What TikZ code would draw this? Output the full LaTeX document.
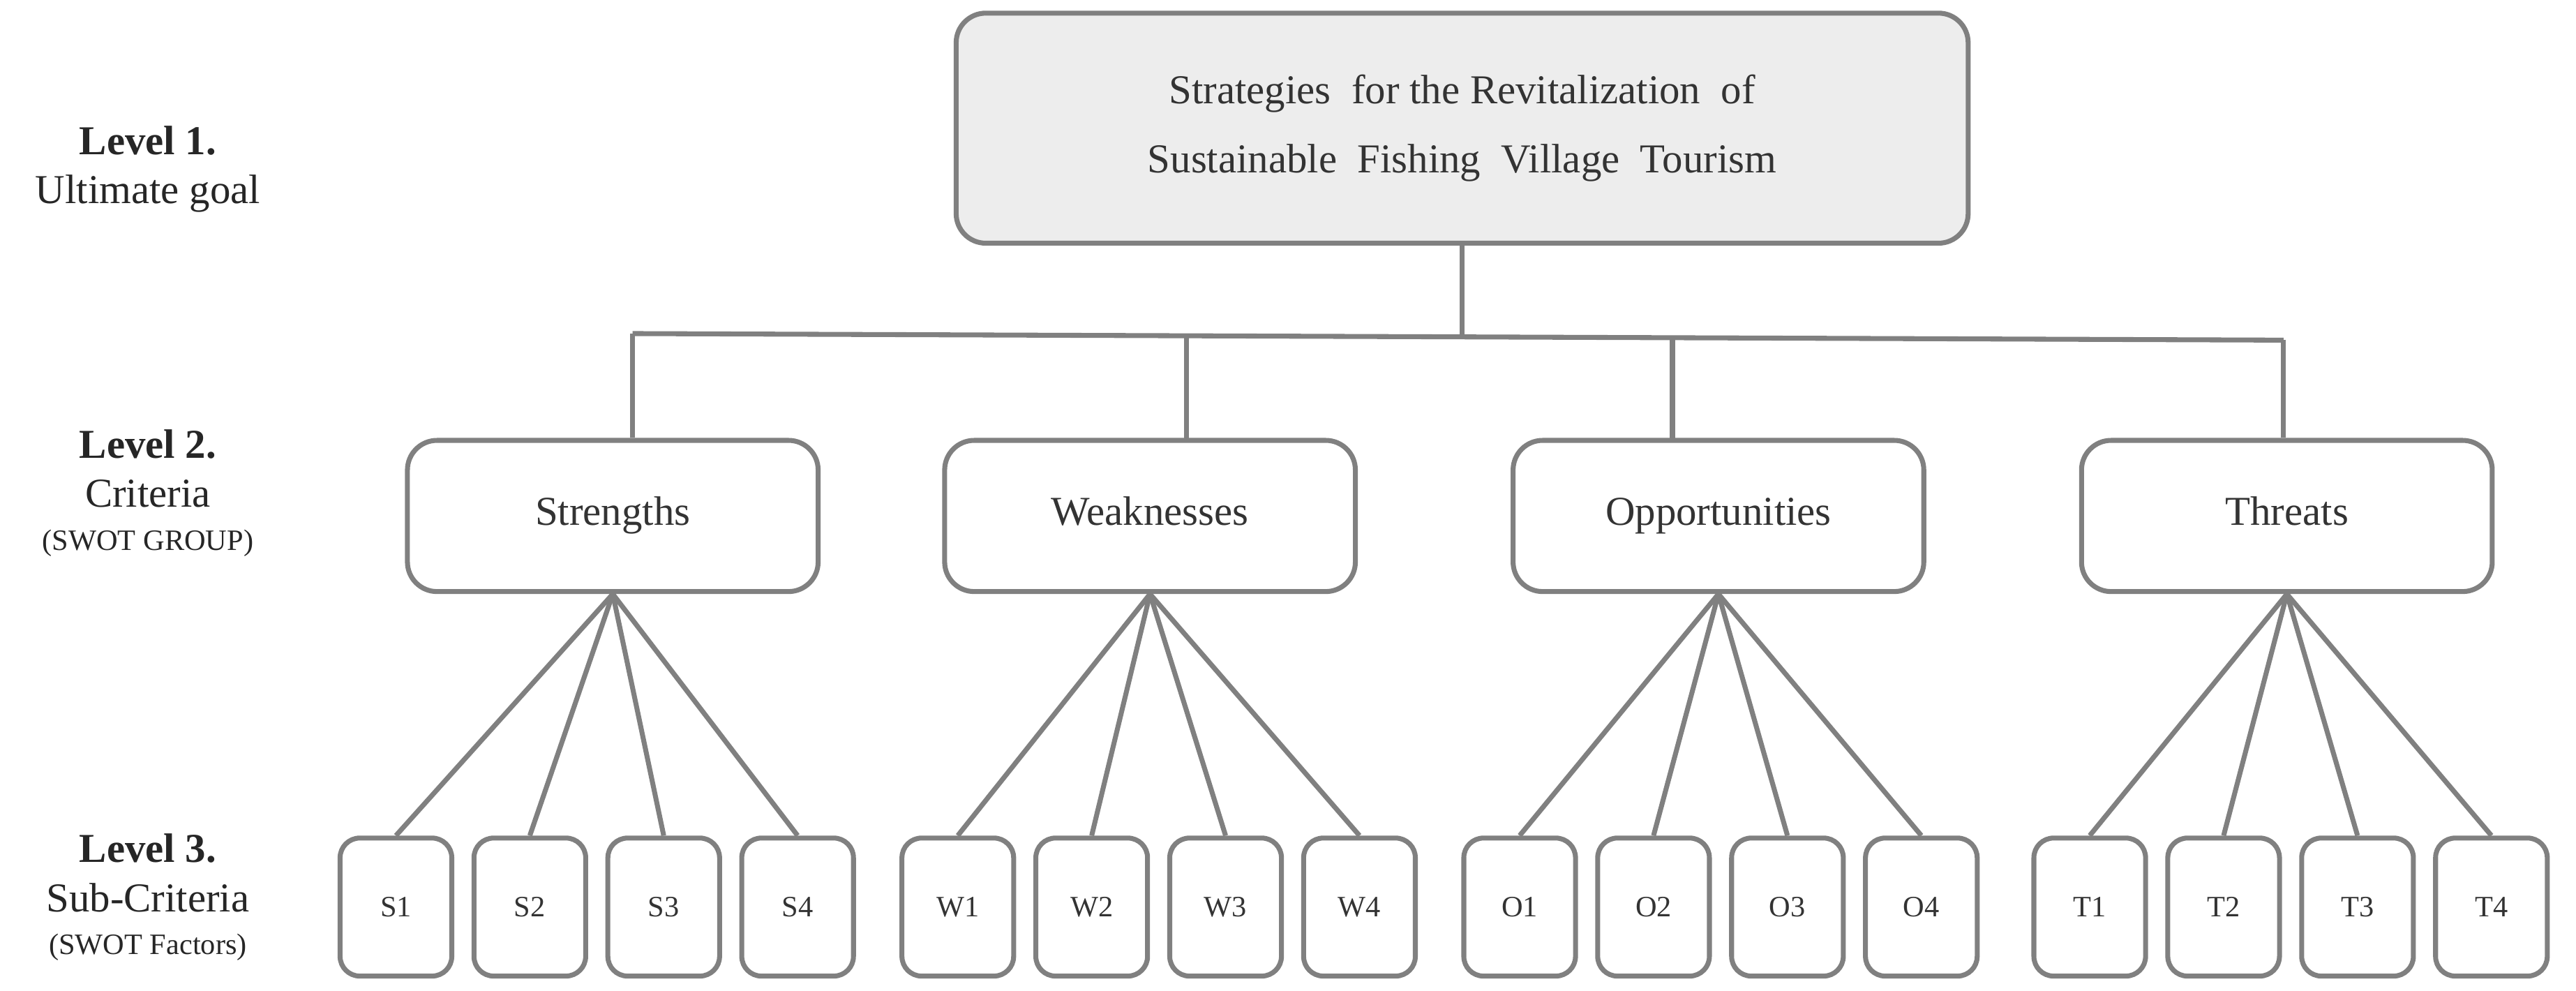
\documentclass[tikz,border=0pt]{standalone}
\usepackage{fontspec}
\setmainfont{Liberation Serif}
\begin{document}
\begin{tikzpicture}[x=0.5pt,y=-0.5pt,
  ln/.style={draw=black!50,line width=1.5pt},
  bx/.style={ln,rounded corners=9pt,fill=white,text=black!80,font=\fontsize{12.5}{15}\selectfont,align=center},
  sb/.style={bx,minimum width=34pt,minimum height=42pt,font=\fontsize{9}{11}\selectfont,rounded corners=6pt,text height=1.5ex,text depth=0.2ex},
  lv/.style={align=center,text=black!85,font=\fontsize{12.5}{15}\selectfont}]
\useasboundingbox (0,0) rectangle (1568,603);
\node[bx,fill=black!7,minimum width=308pt,minimum height=70pt] (g) at (890,78) {Strategies\ \ for the Revitalization\ \ of\\[6pt] Sustainable\ \ Fishing\ \ Village\ \ Tourism};
\foreach \n/\t/\x in {S/Strengths/373,W/Weaknesses/700,O/Opportunities/1046,T/Threats/1392}
  \node[bx,minimum width=125pt,minimum height=46pt,text height=1.6ex,text depth=0.4ex] (\n) at (\x,314) {\t};
\foreach \n/\a in {S/207,W/549,O/891,T/1238}{
  \foreach \i in {1,2,3,4}{
    \pgfmathsetmacro{\xx}{\a+34+(\i-1)*81.5}
    \node[sb] (\n\i) at (\xx,552) {\n\i};
    \draw[ln] (\n.south) -- (\n\i.north);
  }}
\coordinate (j) at (890,205);
\coordinate (jl) at (385,203);
\coordinate (jr) at (1390,207);
\draw[ln] (g.south) -- (j);
\draw[ln] (jl) -- (jr);
\draw[ln] (jl) -- (jl |- S.north);
\draw[ln] (722,204) -- (722,268);
\draw[ln] (1018,206) -- (1018,268);
\draw[ln] (jr) -- (jr |- T.north);
\node[lv] (l1) at (90,103) {\textbf{Level 1.}\\Ultimate goal};
\node[lv] (l2) at (90,300) {\textbf{Level 2.}\\Criteria\\[-2pt]{\fontsize{9}{11}\selectfont (SWOT GROUP)}};
\node[lv] (l3) at (90,546) {\textbf{Level 3.}\\Sub-Criteria\\[-2pt]{\fontsize{9}{11}\selectfont (SWOT Factors)}};
\end{tikzpicture}
\end{document}
